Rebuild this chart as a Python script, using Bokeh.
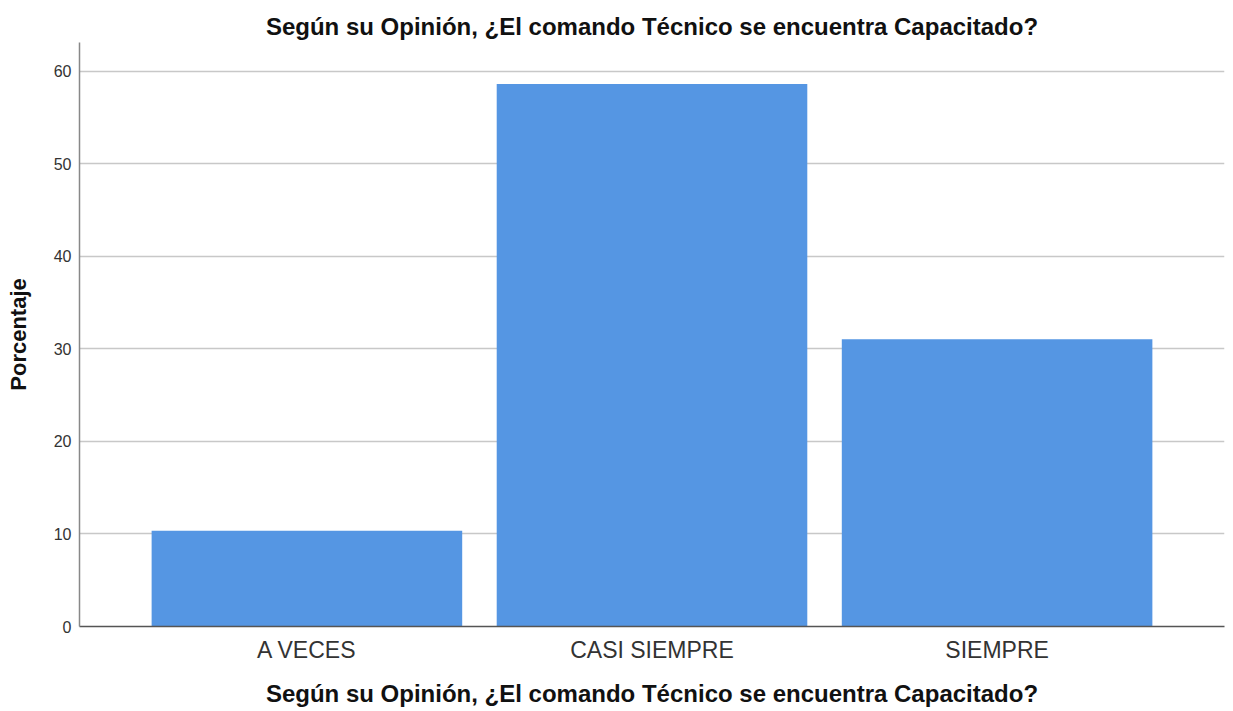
from bokeh.plotting import figure
from bokeh.models import FactorRange, Range1d, Title, FixedTicker
from bokeh.embed import file_html
from bokeh.resources import INLINE

categories = ["A VECES", "CASI SIEMPRE", "SIEMPRE"]
percentages = [10.34, 58.62, 31.03]
y_ticks = [0, 10, 20, 30, 40, 50, 60]
title_text = "Según su Opinión, ¿El comando Técnico se encuentra Capacitado?"
y_label = "Porcentaje"

FONT = "Liberation Sans"

p = figure(
    x_range=FactorRange(*categories, range_padding=0.106, range_padding_units="percent"),
    y_range=Range1d(0, 63.1),
    width=1226, height=709,
    output_backend="svg", toolbar_location=None,
    min_border_left=79, min_border_right=2, min_border_top=42, min_border_bottom=0,
)
p.title = None
t = Title(text=title_text, align="center", text_font=FONT, text_font_size="24px",
          text_font_style="bold", text_color="#111111", standoff=5, offset=0)
p.add_layout(t, "above")

p.vbar(x=categories, top=percentages, width=0.9, fill_color="#5596e3", line_color="#5596e3", line_width=0)

p.outline_line_color = None
p.background_fill_color = "white"

p.ygrid.grid_line_color = "#c8c8c8"
p.ygrid.grid_line_width = 1.5
p.xgrid.grid_line_color = None
p.ygrid.level = "underlay"

p.yaxis.ticker = FixedTicker(ticks=y_ticks)
p.yaxis.axis_label = y_label
p.yaxis.axis_label_text_font = FONT
p.yaxis.axis_label_text_font_style = "bold"
p.yaxis.axis_label_text_font_size = "22px"
p.yaxis.axis_label_text_color = "#111111"
p.yaxis.axis_label_standoff = 20
p.yaxis.major_label_text_font = FONT
p.yaxis.major_label_text_font_size = "16px"
p.yaxis.major_label_text_color = "#333333"
p.yaxis.axis_line_color = "#888888"
p.yaxis.axis_line_width = 1.5
p.yaxis.major_tick_line_color = None
p.yaxis.major_tick_out = 0
p.yaxis.major_tick_in = 0
p.yaxis.minor_tick_line_color = None
p.yaxis.major_label_standoff = 8

p.xaxis.axis_label = title_text
p.xaxis.axis_label_text_font = FONT
p.xaxis.axis_label_text_font_style = "bold"
p.xaxis.axis_label_text_font_size = "24px"
p.xaxis.axis_label_text_color = "#111111"
p.xaxis.axis_label_standoff = 14
p.xaxis.major_label_text_font = FONT
p.xaxis.major_label_text_font_size = "23px"
p.xaxis.major_label_text_color = "#333333"
p.xaxis.axis_line_color = "#555555"
p.xaxis.axis_line_width = 1.5
p.xaxis.major_tick_line_color = None
p.xaxis.major_tick_out = 0
p.xaxis.major_tick_in = 0
p.xaxis.major_label_standoff = 10

open("out.html", "w").write(file_html(p, INLINE))
